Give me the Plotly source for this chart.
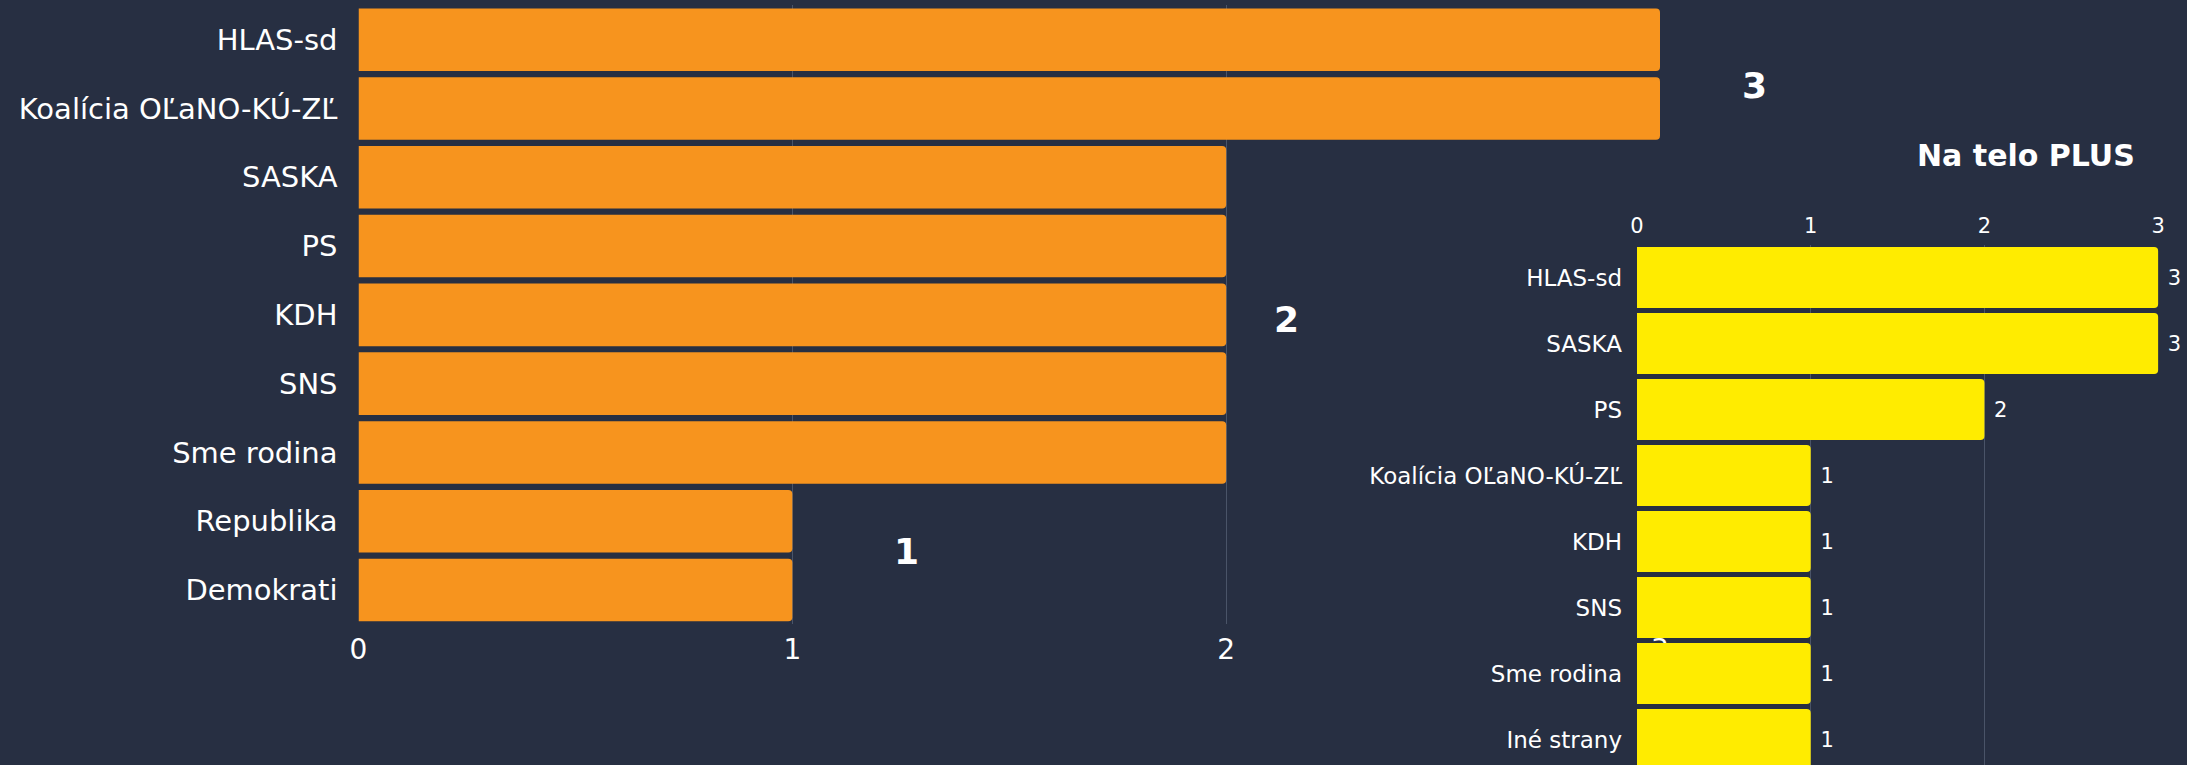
import plotly.graph_objects as go

# ---- data ----
left_parties = ["HLAS-sd", "Koalícia OĽaNO-KÚ-ZĽ", "SASKA", "PS", "KDH", "SNS",
                "Sme rodina", "Republika", "Demokrati"]
left_seats = [3, 3, 2, 2, 2, 2, 2, 1, 1]
left_ticks = [0, 1, 2, 3]

right_title = "Na telo PLUS"
right_parties = ["HLAS-sd", "SASKA", "PS", "Koalícia OĽaNO-KÚ-ZĽ", "KDH", "SNS",
                 "Sme rodina", "Iné strany"]
right_seats = [3, 3, 2, 1, 1, 1, 1, 1]
right_ticks = [0, 1, 2, 3]

# ---- style ----
BG = "#272f42"
ORANGE = "#f7941e"
YELLOW = "#ffec00"
GRID = "#4a5468"
FONT = "DejaVu Sans"
W, H = 2187, 765

fig = go.Figure()

fig.add_trace(go.Bar(
    y=left_parties, x=left_seats, orientation="h",
    marker=dict(color=ORANGE, cornerradius=4, line=dict(width=0)),
    width=0.91, xaxis="x", yaxis="y", hoverinfo="skip", showlegend=False,
))

fig.add_trace(go.Bar(
    y=right_parties, x=right_seats, orientation="h",
    marker=dict(color=YELLOW, cornerradius=4, line=dict(width=0)),
    width=0.924, xaxis="x2", yaxis="y2", hoverinfo="skip", showlegend=False,
    texttemplate="\u00a0%{x}", textposition="outside", cliponaxis=False,
    textfont=dict(color="white", size=21, family=FONT),
))

# group labels for the left chart (one per distinct value)
group_shift = {3: (94, -11), 2: (60, -5), 1: (114, 4)}
annotations = []
for val in sorted(set(left_seats), reverse=True):
    idx = [i for i, v in enumerate(left_seats) if v == val]
    dx, dy = group_shift.get(val, (60, 0))
    annotations.append(dict(
        x=val, y=sum(idx) / len(idx), xref="x", yref="y",
        xanchor="center", yanchor="middle",
        text=str(val), showarrow=False, xshift=dx, yshift=dy,
        font=dict(color="white", size=36, family=FONT, weight="bold"),
    ))

annotations.append(dict(
    x=2026 / W, y=1 - 156 / H, xref="paper", yref="paper",
    xanchor="center", yanchor="middle",
    text=right_title, showarrow=False,
    font=dict(color="white", size=30, family=FONT, weight="bold"),
))

fig.update_layout(
    width=W, height=H, autosize=False,
    margin=dict(l=0, r=0, t=0, b=0, pad=0, autoexpand=False),
    paper_bgcolor=BG, plot_bgcolor="rgba(0,0,0,0)",
    font=dict(family=FONT, color="white"),
    showlegend=False,
    annotations=annotations,
    xaxis=dict(
        domain=[358.5 / W, 1660 / W], range=[0, 3], anchor="y", automargin=False,
        tickvals=left_ticks, showgrid=True, gridcolor=GRID, gridwidth=1,
        zeroline=False, showline=False, ticks="",
        tickfont=dict(size=28, color="white", family=FONT),
        ticklabelstandoff=6,
    ),
    yaxis=dict(
        domain=[1 - 624.4 / H, 1 - 5.3 / H], anchor="x", automargin=False,
        type="category", autorange="reversed",
        showgrid=False, zeroline=False, showline=False, ticks="",
        tickfont=dict(size=29, color="white", family=FONT),
        ticklabelstandoff=20,
    ),
    xaxis2=dict(
        domain=[1637 / W, 2159 / W], range=[0, 3.005], anchor="y2", side="top",
        automargin=False,
        tickvals=right_ticks, showgrid=True, gridcolor=GRID, gridwidth=1,
        zeroline=False, showline=False, ticks="",
        tickfont=dict(size=21, color="white", family=FONT),
        ticklabelstandoff=6,
    ),
    yaxis2=dict(
        domain=[0, 1 - 244.5 / H], anchor="x2", automargin=False,
        type="category", range=[7.386, -0.5],
        showgrid=False, zeroline=False, showline=False, ticks="",
        tickfont=dict(size=23, color="white", family=FONT),
        ticklabelstandoff=14,
    ),
)

fig.write_html("out.html",
               config={"displayModeBar": False},
               post_script="document.body.style.margin='0';"
                           "document.body.style.overflow='hidden';")
